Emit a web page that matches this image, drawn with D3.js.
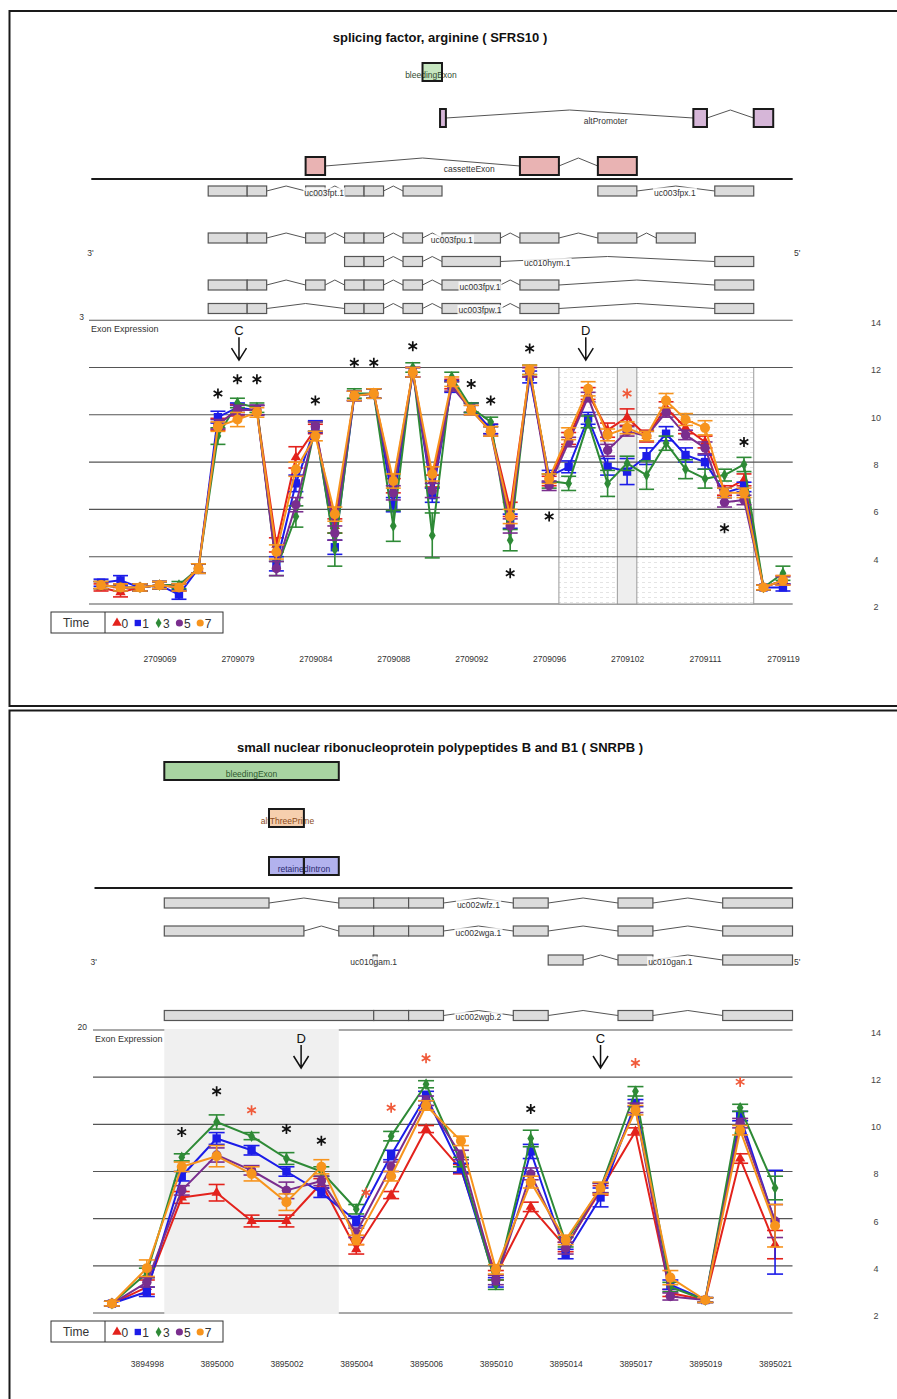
<!DOCTYPE html>
<html>
<head>
<meta charset="utf-8">
<script src="https://cdn.jsdelivr.net/npm/d3@7"></script>
<style>
body { margin: 0; background: #fff; }
svg text { font-family: "Liberation Sans", Arial, sans-serif; }
</style>
</head>
<body>
<svg id="fig" width="897" height="1399"></svg>
<script>
// ---------- data ----------
var timeKeys = ["0", "1", "3", "5", "7"];
var yTicks = [2, 4, 6, 8, 10, 12, 14];

// SFRS10 (top), 36 probes
var topTitle = "splicing factor, arginine ( SFRS10 )";
var topTickProbe = [4, 8, 12, 16, 20, 24, 28, 32, 36];
var topTickLabel = ["2709069", "2709079", "2709084", "2709088", "2709092", "2709096", "2709102", "2709111", "2709119"];
var topT0 = [2.7,2.5,2.7,2.8,2.7,3.5, 9.6,10.2,10.2,4.5,8.2,9.4, 5.3,10.8,10.9,7.0,11.8,7.2, 11.3,10.3,9.4,6.0,11.8,7.2, 9.0,10.9,9.35,9.9,9.1,10.3, 9.45,8.85,6.8,7.25,2.7,3.0];
var topT1 = [2.9,3.0,2.7,2.8,2.4,3.5, 9.9,10.3,10.2,3.7,7.1,9.5, 4.4,10.8,10.9,6.2,11.8,6.6, 11.2,10.3,9.4,5.5,11.6,7.4, 7.8,9.85,7.8,7.6,8.25,9.2, 8.3,8.0,6.7,6.95,2.7,2.7];
var topT3 = [2.8,2.7,2.7,2.8,2.8,3.5, 9.1,10.5,10.3,3.5,5.7,9.5, 4.3,10.9,10.9,5.3,12.0,4.9, 11.6,10.3,9.7,4.7,11.9,7.2, 7.1,9.7,7.1,7.95,7.45,8.8, 7.7,7.3,7.45,7.9,2.7,3.3];
var topT5 = [2.8,2.7,2.7,2.8,2.7,3.5, 9.6,10.2,10.2,3.5,6.2,9.5, 5.0,10.8,10.9,6.7,11.8,6.8, 11.2,10.2,9.3,5.3,11.8,7.0, 8.85,10.75,8.5,9.3,9.1,10.1, 9.15,8.6,6.3,6.4,2.7,3.0];
var topT7 = [2.8,2.7,2.7,2.8,2.7,3.5, 9.5,9.8,10.1,4.2,7.7,9.1, 5.8,10.8,10.9,7.2,11.8,7.5, 11.4,10.2,9.3,5.7,11.9,7.3, 9.2,11.1,9.15,9.45,9.1,10.6, 9.8,9.45,6.7,6.7,2.7,3.0];
var topE0 = [0.15,0.2,0.15,0.15,0.15,0.2, 0.25,0.25,0.2,0.3,0.45,0.2, 0.3,0.2,0.2,0.3,0.2,0.25, 0.2,0.2,0.2,0.3,0.2,0.2, 0.25,0.25,0.3,0.35,0.25,0.25, 0.25,0.25,0.2,0.25,0.1,0.2];
var topE1 = [0.15,0.2,0.15,0.15,0.2,0.2, 0.25,0.2,0.2,0.3,0.35,0.25, 0.3,0.2,0.2,0.3,0.2,0.3, 0.25,0.2,0.2,0.3,0.25,0.25, 0.25,0.25,0.35,0.55,0.35,0.3, 0.3,0.3,0.2,0.2,0.1,0.15];
var topE3 = [0.15,0.15,0.15,0.15,0.15,0.2, 0.35,0.2,0.2,0.3,0.45,0.2, 0.7,0.2,0.2,0.65,0.2,0.95, 0.2,0.2,0.2,0.45,0.2,0.3, 0.3,0.25,0.55,0.3,0.6,0.3, 0.4,0.4,0.25,0.3,0.1,0.3];
var topE5 = [0.15,0.15,0.15,0.15,0.15,0.2, 0.2,0.2,0.2,0.3,0.3,0.2, 0.3,0.2,0.2,0.3,0.2,0.3, 0.2,0.2,0.2,0.3,0.2,0.2, 0.2,0.2,0.25,0.2,0.2,0.2, 0.2,0.25,0.2,0.2,0.1,0.15];
var topE7 = [0.15,0.15,0.15,0.15,0.15,0.2, 0.2,0.3,0.2,0.3,0.3,0.2, 0.3,0.2,0.2,0.3,0.2,0.3, 0.2,0.2,0.2,0.3,0.2,0.2, 0.25,0.3,0.25,0.25,0.2,0.3, 0.25,0.3,0.2,0.2,0.1,0.2];
// stars: probe number (1-based), value, red?
var topStars = [[7,10.9,0],[8,11.5,0],[9,11.5,0],[12,10.6,0],[14,12.2,0],[15,12.2,0],[17,12.9,0],[20,11.3,0],[21,10.6,0],[23,12.8,0],[24,5.7,0],[22,3.3,0],[28,10.9,1],[34,8.85,0],[33,5.2,0]];
var topArrows = [["C", 8.08], ["D", 25.88]];
// gene model, in probe units
var topEvents = [
  { row: 0, name: "bleedingExon", exons: [[17, 18]], at: 17.43 },
  { row: 1, name: "altPromoter", exons: [[17.9, 18.2], [30.9, 31.6], [34, 35]], at: 26.4 },
  { row: 2, name: "cassetteExon", exons: [[11, 12], [22, 24], [26, 28]], at: 19.4 }
];
var topTx = [
  { row: 0, name: "uc003fpt.1", exons: [[6,8],[8,9],[11,12],[13,14],[14,15],[16,18]], at: 11.95 },
  { row: 0, name: "uc003fpx.1", exons: [[26,28],[32,34]], at: 29.95 },
  { row: 1, name: "uc003fpu.1", exons: [[6,8],[8,9],[11,12],[13,14],[14,15],[16,17],[18,21],[22,24],[26,28],[29,31]], at: 18.5 },
  { row: 2, name: "uc010hym.1", exons: [[13,14],[14,15],[16,17],[18,21],[32,34]], at: 23.4 },
  { row: 3, name: "uc003fpv.1", exons: [[6,8],[8,9],[11,12],[13,14],[14,15],[16,17],[18,21],[22,24],[32,34]], at: 19.95 },
  { row: 4, name: "uc003fpw.1", exons: [[6,8],[8,9],[13,14],[14,15],[16,17],[18,21],[22,24],[32,34]], at: 19.95 }
];
var topRegions = [[24, 34, "dots"], [27, 28, "gray"]];

// SNRPB (bottom), 20 probes
var botTitle = "small nuclear ribonucleoprotein polypeptides B and B1  ( SNRPB )";
var botTickProbe = [2, 4, 6, 8, 10, 12, 14, 16, 18, 20];
var botTickLabel = ["3894998", "3895000", "3895002", "3895004", "3895006", "3895010", "3895014", "3895017", "3895019", "3895021"];
var botT0 = [2.4,3.1,6.9,7.1,5.9,5.9,7.5,4.7,7.0,9.8,8.1,3.6,6.5,4.8,7.2,9.7,2.85,2.55,8.55,4.9];
var botT1 = [2.4,2.9,7.8,9.4,8.9,8.0,7.1,5.9,8.7,11.2,8.15,3.3,8.85,4.5,6.9,10.9,3.2,2.55,10.35,5.85];
var botT3 = [2.4,3.7,8.6,10.1,9.5,8.55,8.0,6.4,9.5,11.7,8.4,3.2,9.4,5.0,7.3,11.4,3.1,2.55,10.7,7.3];
var botT5 = [2.4,3.3,7.2,8.7,8.05,7.2,7.6,5.4,8.2,11.0,8.7,3.4,7.9,4.75,7.3,10.7,2.7,2.55,10.05,5.9];
var botT7 = [2.4,3.9,8.2,8.65,7.9,6.7,8.2,5.1,7.8,10.8,9.3,3.85,7.55,5.1,7.3,10.6,3.5,2.55,9.75,5.7];
var botE0 = [0.1,0.3,0.25,0.35,0.25,0.25,0.2,0.2,0.15,0.15,0.2,0.2,0.2,0.2,0.2,0.15,0.15,0.1,0.2,0.6];
var botE1 = [0.1,0.2,0.2,0.25,0.2,0.2,0.2,0.2,0.2,0.2,0.2,0.2,0.3,0.2,0.4,0.15,0.2,0.1,0.2,2.2];
var botE3 = [0.1,0.2,0.15,0.3,0.15,0.25,0.2,0.2,0.2,0.15,0.2,0.2,0.35,0.2,0.2,0.2,0.2,0.1,0.15,0.5];
var botE5 = [0.1,0.2,0.2,0.3,0.2,0.35,0.2,0.2,0.2,0.2,0.2,0.2,0.25,0.25,0.2,0.2,0.15,0.1,0.2,0.7];
var botE7 = [0.1,0.35,0.2,0.45,0.3,0.35,0.3,0.2,0.2,0.2,0.2,0.2,0.25,0.2,0.25,0.2,0.3,0.1,0.2,0.9];
var botStars = [[3,9.67,0],[4,11.4,0],[5,10.6,1],[6,9.8,0],[7,9.3,0],[8.28,7.1,1],[9,10.7,1],[10,12.8,1],[13,10.65,0],[16,12.6,1],[19,11.8,1]];
var botArrows = [["D", 6.42], ["C", 15.0]];
var botEvents = [
  { row: 0, name: "bleedingExon", exons: [[2, 7]], at: 4.5 },
  { row: 1, name: "altThreePrime", exons: [[5, 6]], at: 5.53 },
  { row: 2, name: "retainedIntron", exons: [[5, 6], [6, 7]], at: 6.0 }
];
var botTx = [
  { row: 0, name: "uc002wfz.1", exons: [[2,5],[7,8],[8,9],[9,10],[12,13],[15,16],[18,20]], at: 11 },
  { row: 1, name: "uc002wga.1", exons: [[2,6],[7,8],[8,9],[9,10],[12,13],[15,16],[18,20]], at: 11 },
  { row: 2, name: "uc010gam.1", exons: [[7.98,8.1]], at: 8.0 },
  { row: 2, name: "uc010gan.1", exons: [[13,14],[15,16],[18,20]], at: 16.5 },
  { row: 3, name: "uc002wgb.2", exons: [[2,8],[8,9],[9,10],[12,13],[15,16],[18,20]], at: 11 }
];
var botRegions = [[2, 7, "gray"]];

// ---------- styles ----------
var colors = { "0": "#e3221c", "1": "#1c1ce8", "3": "#2e8a36", "5": "#7a2e8e", "7": "#f7941d" };
var shapes = { "0": d3.symbolTriangle, "1": d3.symbolSquare, "3": d3.symbolDiamond, "5": d3.symbolCircle, "7": d3.symbolCircle };
var sizes = { "0": 46, "1": 70, "3": 40, "5": 70, "7": 80 };
var eventFill = {
  top: { bleedingExon: "#c6e6c0", altPromoter: "#d6b6d8", cassetteExon: "#e9b3b3" },
  bot: { bleedingExon: "#a9d4a2", altThreePrime: "#f6cfae", retainedIntron: "#b2b2ee" }
};
var eventInk = {
  top: { bleedingExon: "#2f4a2f", altPromoter: "#333", cassetteExon: "#333" },
  bot: { bleedingExon: "#2f5a2f", altThreePrime: "#8a4a20", retainedIntron: "#2a2a70" }
};
var smallFont = 8.5;

var svg = d3.select("#fig");
svg.append("rect").attr("width", 897).attr("height", 1399).attr("fill", "#fff");
var defs = svg.append("defs");
var pat = defs.append("pattern").attr("id", "dots").attr("width", 6).attr("height", 5).attr("patternUnits", "userSpaceOnUse");
pat.append("rect").attr("width", 6).attr("height", 5).attr("fill", "#fff");
pat.append("line").attr("x1", 0).attr("x2", 3).attr("y1", 2.5).attr("y2", 2.5).attr("stroke", "#e4e4e4");

function chevron(x, a, b, y, h) {
  var x0 = x(a), x1 = x(b);
  return "M" + x0 + "," + y + "L" + (x0 + x1) / 2 + "," + (y - h) + "L" + x1 + "," + y;
}

function introns(g, x, ex, y, h) {
  for (var i = 1; i < ex.length; i++) {
    if (ex[i][0] > ex[i - 1][1]) {
      g.append("path").attr("d", chevron(x, ex[i - 1][1], ex[i][0], y, h))
        .attr("fill", "none").attr("stroke", "#555").attr("stroke-width", 1);
    }
  }
}

function drawEvents(g, x, items, rowY, fills, ink) {
  items.forEach(function(t) {
    var y = rowY[t.row];
    introns(g, x, t.exons, y, 8);
    var boxes = g.selectAll(null).data(t.exons).enter();
    boxes.append("rect")
      .attr("x", function(d) { return x(d[0]); })
      .attr("width", function(d) { return x(d[1]) - x(d[0]); })
      .attr("y", y - 9).attr("height", 18)
      .attr("fill", fills[t.name]);
    g.append("text").attr("x", x(t.at)).attr("y", y + 6).attr("text-anchor", "middle")
      .attr("font-size", smallFont).attr("fill", ink[t.name]).text(t.name);
    g.selectAll(null).data(t.exons).enter().append("rect")
      .attr("x", function(d) { return x(d[0]); })
      .attr("width", function(d) { return x(d[1]) - x(d[0]); })
      .attr("y", y - 9).attr("height", 18)
      .attr("fill", "none").attr("stroke", "#1a1a1a").attr("stroke-width", 2);
  });
}

function drawTx(g, x, items, rowY) {
  items.forEach(function(t) {
    var y = rowY[t.row];
    introns(g, x, t.exons, y, 5);
    g.selectAll(null).data(t.exons).enter().append("rect")
      .attr("x", function(d) { return x(d[0]); })
      .attr("width", function(d) { return x(d[1]) - x(d[0]); })
      .attr("y", y - 5).attr("height", 10)
      .attr("fill", "#dcdcdc").attr("stroke", "#555").attr("stroke-width", 1.2);
    var lab = g.append("text").attr("x", x(t.at)).attr("y", y + 4.5).attr("text-anchor", "middle")
      .attr("font-size", smallFont).attr("fill", "#333").text(t.name);
    var bb = lab.node().getBBox();
    g.insert("rect", function() { return lab.node(); })
      .attr("x", bb.x - 1).attr("y", bb.y).attr("width", bb.width + 2).attr("height", bb.height)
      .attr("fill", "#fff").attr("fill-opacity", 0.8);
  });
}

function drawChart(g, c) {
  var x = c.x, y = c.y;
  var gx0 = c.gridX0, gx1 = x.range()[1];
  var outer = [yTicks[0], yTicks[yTicks.length - 1]];
  var inner = yTicks.slice(1, -1);
  function gridLines(vals) {
    g.selectAll(null).data(vals).enter().append("line")
      .attr("x1", gx0).attr("x2", gx1)
      .attr("y1", function(d) { return y(d); }).attr("y2", function(d) { return y(d); })
      .attr("stroke", "#555").attr("stroke-width", 1.1);
  }
  gridLines(outer);
  c.regions.forEach(function(r) {
    var top = c.short ? y(12) : y(14) - 1;
    g.append("rect").attr("x", x(r[0])).attr("width", x(r[1]) - x(r[0]))
      .attr("y", top).attr("height", y(2) - top + (c.short ? 0 : 1))
      .attr("fill", r[2] == "dots" ? "url(#dots)" : (c.short ? "#eeeeee" : "#f0f0f0"))
      .attr("stroke", c.short ? "#9a9a9a" : "none").attr("stroke-width", 1);
  });
  gridLines(inner);

  // right axis labels
  var ax = g.append("g").attr("transform", "translate(876," + 2.5 + ")")
    .call(d3.axisRight(y).tickValues(yTicks).tickSize(0).tickPadding(0));
  ax.select(".domain").remove();
  ax.selectAll("text").attr("text-anchor", "middle").attr("font-size", 9).attr("fill", "#444")
    .style("font-family", "'Liberation Sans', Arial, sans-serif");

  // bottom labels
  var bx = g.append("g").attr("transform", "translate(0," + c.tickY + ")")
    .call(d3.axisBottom(x).tickValues(c.tickProbe.map(function(p) { return p - 0.5; }))
      .tickFormat(function(d, i) { return c.tickLabel[i]; }).tickSize(0).tickPadding(3));
  bx.select(".domain").remove();
  bx.selectAll("text").attr("font-size", 8.5).attr("fill", "#333")
    .style("font-family", "'Liberation Sans', Arial, sans-serif");

  // series
  var line = d3.line().x(function(d, i) { return x(i + 0.5); }).y(function(d) { return y(d); });
  c.series.forEach(function(s) {
    var col = colors[s.key];
    var sg = g.append("g");
    sg.append("path").datum(s.vals).attr("d", line).attr("fill", "none")
      .attr("stroke", col).attr("stroke-width", 2).attr("stroke-linejoin", "round");
    var pts = s.vals.map(function(v, i) { return { i: i, v: v, e: s.errs[i] }; });
    var eb = sg.selectAll(null).data(pts).enter().append("g").attr("stroke", col).attr("stroke-width", 1.6);
    eb.append("line").attr("x1", function(d) { return x(d.i + 0.5); }).attr("x2", function(d) { return x(d.i + 0.5); })
      .attr("y1", function(d) { return y(d.v - d.e); }).attr("y2", function(d) { return y(d.v + d.e); });
    [-1, 1].forEach(function(sgn) {
      eb.append("line").attr("x1", function(d) { return x(d.i + 0.5) - c.cap; }).attr("x2", function(d) { return x(d.i + 0.5) + c.cap; })
        .attr("y1", function(d) { return y(d.v + sgn * d.e); }).attr("y2", function(d) { return y(d.v + sgn * d.e); });
    });
    sg.selectAll(null).data(pts).enter().append("path")
      .attr("transform", function(d) { return "translate(" + x(d.i + 0.5) + "," + y(d.v) + ")"; })
      .attr("d", d3.symbol().type(shapes[s.key]).size(sizes[s.key])).attr("fill", col);
  });

  // asterisks
  g.selectAll(null).data(c.stars).enter().append("path")
    .attr("transform", function(d) { return "translate(" + x(d[0] - 0.5) + "," + y(d[1]) + ")"; })
    .attr("d", d3.symbol().type(d3.symbolAsterisk).size(70))
    .attr("fill", "none").attr("stroke", function(d) { return d[2] ? "#f05a3a" : "#111"; }).attr("stroke-width", 1.7);

  // arrows
  c.arrows.forEach(function(a) {
    var ax0 = x(a[1] - 0.5), t = y(14);
    g.append("text").attr("x", ax0).attr("y", t + c.arrowY).attr("text-anchor", "middle")
      .attr("font-size", 13).attr("fill", "#111").text(a[0]);
    g.append("path").attr("d", "M" + ax0 + "," + (t + c.arrowY + 2) + "V" + (t + c.arrowY + 25) +
        "M" + (ax0 - 7.5) + "," + (t + c.arrowY + 13) + "L" + ax0 + "," + (t + c.arrowY + 25) + "L" + (ax0 + 7.5) + "," + (t + c.arrowY + 13))
      .attr("fill", "none").attr("stroke", "#111").attr("stroke-width", 1.5);
  });

  // legend
  var lg = g.append("g").attr("transform", "translate(51," + c.legendY + ")");
  lg.append("rect").attr("width", 172).attr("height", 21).attr("fill", "#fff").attr("stroke", "#333");
  lg.append("line").attr("x1", 54).attr("x2", 54).attr("y1", 0).attr("y2", 21).attr("stroke", "#333");
  lg.append("text").attr("x", 25).attr("y", 15).attr("text-anchor", "middle").attr("font-size", 12).attr("fill", "#333").text("Time");
  timeKeys.forEach(function(k, i) {
    var lx = 66 + i * 20.8;
    lg.append("path").attr("transform", "translate(" + lx + ",11)")
      .attr("d", d3.symbol().type(shapes[k]).size(k == "3" ? 30 : 40)).attr("fill", colors[k]);
    lg.append("text").attr("x", lx + 4.5).attr("y", 15.5).attr("font-size", 12).attr("fill", "#333").text(k);
  });
}

function panel(p) {
  var g = svg.append("g");
  g.append("rect").attr("x", 9.5).attr("y", p.top).attr("width", 905).attr("height", p.height)
    .attr("fill", "none").attr("stroke", "#1a1a1a").attr("stroke-width", 2);
  g.append("text").attr("x", 440).attr("y", p.titleY).attr("text-anchor", "middle")
    .attr("font-size", 13).attr("font-weight", "bold").attr("fill", "#111").text(p.title);
  drawEvents(g, p.x, p.events, p.eventRows, p.fills, p.ink);
  g.append("line").attr("x1", p.x.range()[0]).attr("x2", p.x.range()[1]).attr("y1", p.sepY).attr("y2", p.sepY)
    .attr("stroke", "#1a1a1a").attr("stroke-width", 2);
  drawTx(g, p.x, p.tx, p.txRows);
  g.append("text").attr("x", p.x.range()[0] - 4).attr("y", p.primeY).attr("font-size", smallFont).attr("fill", "#333").text("3'");
  g.append("text").attr("x", 794).attr("y", p.primeY).attr("font-size", smallFont).attr("fill", "#333").text("5'");
  g.append("text").attr("x", p.leftNumX).attr("y", p.y(14)).attr("text-anchor", "end").attr("font-size", smallFont).attr("fill", "#333").text(p.leftNum);
  g.append("text").attr("x", p.gridX0 + 2).attr("y", p.y(14) + 12).attr("font-size", 9).attr("fill", "#333").text("Exon Expression");
  drawChart(g, p);
}

var xTop = d3.scaleLinear().domain([0, 36]).range([91.3, 792.7]);
var yTop = d3.scaleLinear().domain([2, 14]).range([604, 320.2]);
var xBot = d3.scaleLinear().domain([0, 20]).range([94.5, 792.5]);
var yBot = d3.scaleLinear().domain([2, 14]).range([1313, 1030]);

panel({
  top: 11, height: 695, title: topTitle, titleY: 42,
  x: xTop, y: yTop, gridX0: 89, short: true, cap: 7.5,
  events: topEvents, eventRows: [72, 118, 166], fills: eventFill.top, ink: eventInk.top, sepY: 179,
  tx: topTx, txRows: [191, 238, 261.5, 285, 308.5], primeY: 256,
  leftNum: "3", leftNumX: 84,
  regions: topRegions, tickY: 653, tickProbe: topTickProbe, tickLabel: topTickLabel,
  stars: topStars, arrows: topArrows, arrowY: 15, legendY: 612,
  series: [
    { key: "0", vals: topT0, errs: topE0 }, { key: "1", vals: topT1, errs: topE1 },
    { key: "3", vals: topT3, errs: topE3 }, { key: "5", vals: topT5, errs: topE5 },
    { key: "7", vals: topT7, errs: topE7 }
  ]
});

panel({
  top: 710.5, height: 720, title: botTitle, titleY: 752,
  x: xBot, y: yBot, gridX0: 93, short: false, cap: 8,
  events: botEvents, eventRows: [771, 818, 866], fills: eventFill.bot, ink: eventInk.bot, sepY: 888,
  tx: botTx, txRows: [903, 931, 960, 1015.5], primeY: 965,
  leftNum: "20", leftNumX: 87,
  regions: botRegions, tickY: 1358, tickProbe: botTickProbe, tickLabel: botTickLabel,
  stars: botStars, arrows: botArrows, arrowY: 13, legendY: 1321,
  series: [
    { key: "0", vals: botT0, errs: botE0 }, { key: "1", vals: botT1, errs: botE1 },
    { key: "3", vals: botT3, errs: botE3 }, { key: "5", vals: botT5, errs: botE5 },
    { key: "7", vals: botT7, errs: botE7 }
  ]
});
</script>
</body>
</html>
